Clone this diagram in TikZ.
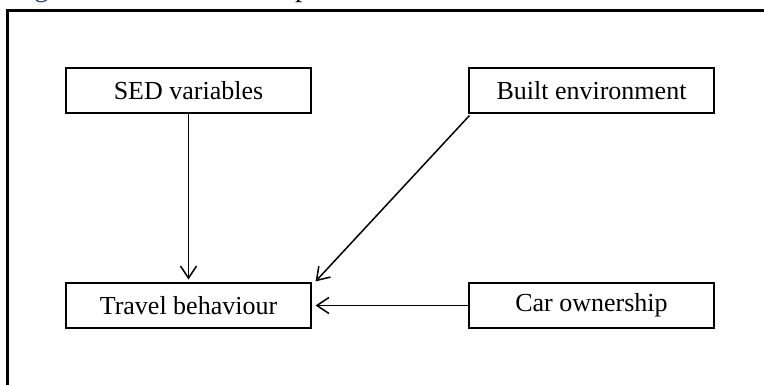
\documentclass[tikz,border=0pt]{standalone}
\usepackage{fontspec}
\setmainfont{Liberation Serif}
\usetikzlibrary{arrows.meta}
\definecolor{capblue}{RGB}{35,60,130}
\begin{document}
\begin{tikzpicture}[x=1pt,y=-1pt,
  box/.style={draw, line width=1.2pt, minimum width=245pt, minimum height=45pt,
              inner sep=0pt, font=\fontsize{26}{30}\selectfont},
  link/.style={line width=1.5pt,
               -{Straight Barb[length=12pt,width=16pt,line width=1.5pt]}},
  caption/.style={anchor=base west, inner sep=0pt, font=\fontsize{29}{33}\selectfont}]
\useasboundingbox (0,0) rectangle (764,385);
\clip (0,0) rectangle (764,385);

% caption line, cut by the frame's top edge
\node[caption, text=capblue] (fignum) at (10,-3) {Figure 2.1};
\node[caption] (figtitle) at (175,-3) {The conceptual model};

% open frame round the model
\draw[line width=3pt] (7.5,400) -- (7.5,10.5) -- (800,10.5);

% factors
\node[box] (sed)    at (188.5,90.5)  {SED variables};
\node[box] (built)  at (591.5,90.5)  {Built environment};
\node[box] (travel) at (188.5,305.5) {Travel behaviour};
\node[box] (car)    at (591.5,305.5) {Car ownership};

% arrow end points, just short of the target box
\coordinate (t1) at ([shift={(0,-3)}]travel.north);
\coordinate (t2) at ([shift={(4,-1)}]travel.north east);
\coordinate (t3) at ([shift={(4,0)}]travel.east);
\coordinate (b1) at ([shift={(1,2)}]built.south west);

\draw[link] (sed.south) -- (t1);
\draw[link] (b1) -- (t2);
\draw[link] (car.west) -- (t3);
\end{tikzpicture}
\end{document}
